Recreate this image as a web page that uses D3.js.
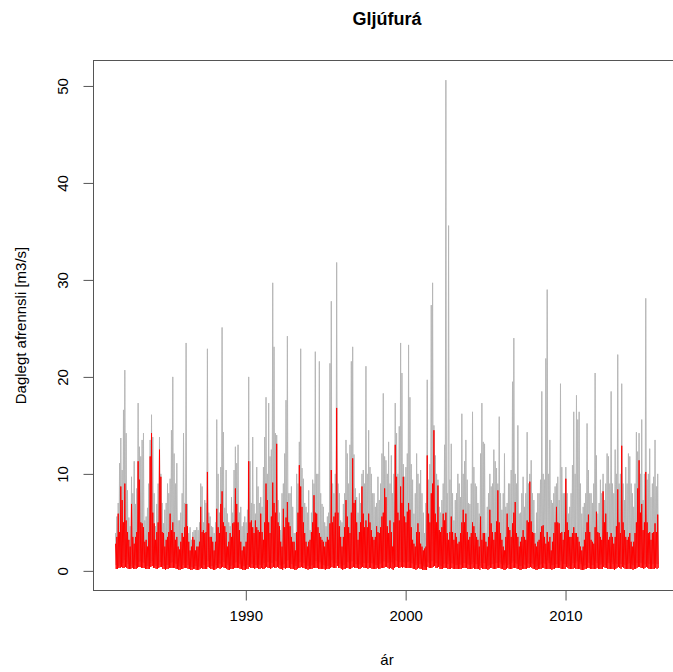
<!DOCTYPE html>
<html>
<head>
<meta charset="utf-8">
<script src="https://cdn.jsdelivr.net/npm/d3@7"></script>
<style>
  body { margin: 0; background: #fff; }
  svg { display: block; }
  text { font-family: "Liberation Sans", Arial, Helvetica, sans-serif; fill: #000; }
</style>
</head>
<body>
<svg id="chart" width="673" height="672"></svg>
<script>
// Gljúfurá daily discharge, summarised per month as the monthly high and low (m3/s).
// Rows are water years running November to October, first month November 1981.
const chartTitle = "Gljúfurá";
const xLabel = "ár";
const yLabel = "Daglegt afrennsli [m3/s]";
const firstYear = 1981, firstMonth = 10;
const xTickYears = [1990, 2000, 2010];
const yTickValues = [0, 10, 20, 30, 40, 50];

// Measured series (grey): monthly highs
const grayMax = [
  3.9,5.6,7,11.1,13.7,10.4,16.6,20.7,14.2,8.3,5.5,4.6,
  9.7,8,11.3,6.9,8.5,17.3,12.8,11.8,13.5,14.2,5.2,5.6,
  6.5,9,13.5,16.1,13.8,8,4.6,6.9,9,13.8,10,7,
  4.9,6.3,7,9,8,9.5,14.5,20,12.1,9,11.1,5.2,
  5.2,6,8,14.2,7,23.5,6.9,3.9,4.5,3.2,4,4.2,
  4.2,4.5,4.2,5,9,8.7,5,7.3,7,22.9,6,5.6,
  4.6,4.5,3.9,5,15.6,10,6,10.7,25.1,14.3,6.5,10.4,
  5.9,5,4.6,7.6,6,10.4,12.8,11.1,13,6,6.6,4.6,
  5,5.6,5,6.3,20,11.3,7,13.8,6.9,5.9,10.7,8.7,
  7,7.6,6.6,10.7,13.8,17.9,10,17.3,11.8,12.5,29.7,23.1,
  14.2,14,7.3,6,4.2,8,9,12.1,17.6,24.2,8,8,
  8.7,6.6,3.9,3.9,10,9,13.3,22.9,10.6,9.5,7,6.6,
  6,8.3,4.2,6,9.4,9,22.6,10,10,21.6,8,6.9,
  6.6,5,4.6,5.6,6,21.4,27.8,9,8,10,31.8,9,
  8,5.2,5,6.9,8,13.5,12.1,9,13,21.6,23.1,12,
  8.5,7.6,6,8,7,10,10.4,9,21.1,10,14.5,10.7,
  10,8,8,6.6,7,9.7,7.3,9,12.1,18.3,11.8,11.4,
  10,13.3,9,11.9,8,10,17.3,14.2,10,14.9,23.5,20.4,
  11,9.7,10.7,12.1,23.3,17.9,11,9.4,5.9,8,12.1,10,
  9,10.4,8,6,3.9,7,19.7,9.4,11,27.4,29.7,15,
  11.9,10,9.4,6.6,6,7.3,9,13,50.6,8,35.6,9.4,
  13.1,8,5.2,7.3,8,10,9,7.6,16.2,10,11.3,13.5,
  9.4,7,6.9,9,16.4,10.7,9,8.7,7,5.9,12.1,17.3,
  13.3,13.1,3.9,6.6,8,10,8.7,9,12.5,11.3,10.6,9,
  15.9,8,6.3,8,12.1,6.6,7,9,9,10.4,19.5,24,
  10,9,15,5.9,6,8,9.7,6.6,8,14.3,9,10,
  11.4,8,7.3,3.9,6,8,8,9.4,18.5,10,9.4,21.9,
  29,10,13.5,7.3,7,8,8.7,9,9.7,7.3,19.3,10.7,
  8,8,10.7,8,5.9,6.6,8,10.9,16.4,10,18.1,15.6,
  16.4,9,5.9,6.6,7,8,15.2,10.4,8,8,7,9,
  20.4,11.9,5.9,7,9.4,8,10,7.3,9,12.1,11.8,9,
  18.5,9,8,12.5,10,22.3,9,10,19.3,9,7.3,10.7,
  9,12.1,11.8,9,8,6.6,9,14.3,12.3,14.2,10,15.6,
  7.3,10,28.1,9.4,10,12.6,7.6,9,9.7,13.5,8.7,10
];

// Measured series (grey): monthly lows
const grayMin = [
  .6,.5,.5,.7,.9,.8,1.1,1.2,.9,.7,.6,.5,
  .7,.6,.6,.5,.6,.9,1.0,.8,.9,.8,.6,.5,
  .5,.6,.8,1.0,.9,.7,.5,.5,.6,.9,.8,.6,
  .5,.5,.6,.6,.7,.8,.9,1.1,.8,.7,.7,.5,
  .4,.5,.6,.8,.7,.9,.6,.5,.4,.4,.4,.5,
  .5,.4,.4,.5,.7,.7,.6,.6,.7,1.0,.7,.5,
  .5,.4,.4,.6,.9,.8,.7,.8,1.1,.9,.7,.8,
  .6,.5,.5,.6,.7,.8,.9,.9,.8,.7,.6,.5,
  .5,.5,.6,.6,1.0,.8,.7,.9,.6,.6,.8,.7,
  .6,.7,.6,.8,.9,1.1,.9,1.0,.9,.8,1.2,1.1,
  1.0,.9,.7,.6,.5,.6,.7,.8,1.0,1.1,.7,.7,
  .7,.6,.5,.5,.7,.8,.9,1.1,.9,.8,.6,.6,
  .5,.6,.5,.6,.7,.7,1.0,.8,.8,.9,.7,.6,
  .6,.5,.5,.5,.6,.9,1.1,.8,.7,.8,1.2,.8,
  .7,.5,.5,.6,.7,.9,.9,.8,.9,1.0,1.1,.9,
  .7,.7,.6,.7,.6,.8,.8,.8,1.0,.8,.9,.8,
  .8,.7,.7,.6,.6,.8,.7,.8,.9,1.0,.9,.9,
  .8,.9,.8,.9,.7,.8,1.1,1.0,.8,.9,1.1,1.0,
  .9,.8,.8,.9,1.0,1.0,.8,.7,.6,.6,.8,.8,
  .7,.7,.6,.5,.4,.5,.9,.8,.8,1.0,1.1,1.0,
  .8,.8,.7,.6,.5,.6,.7,.8,1.2,.7,1.0,.7,
  .8,.7,.5,.6,.6,.7,.7,.6,.9,.8,.8,.9,
  .7,.6,.6,.7,.9,.8,.7,.7,.6,.5,.8,.9,
  .8,.8,.4,.5,.6,.7,.7,.7,.8,.8,.8,.7,
  .9,.7,.6,.6,.8,.5,.6,.7,.7,.8,1.0,1.1,
  .8,.7,.9,.5,.5,.6,.7,.6,.6,.8,.7,.8,
  .8,.7,.6,.4,.5,.6,.6,.7,1.0,.8,.7,1.0,
  1.1,.8,.8,.6,.6,.7,.7,.7,.8,.6,1.0,.8,
  .7,.7,.8,.7,.5,.5,.6,.8,.9,.8,1.0,.9,
  .9,.7,.5,.5,.6,.6,.9,.8,.7,.6,.6,.7,
  1.0,.8,.5,.6,.7,.6,.8,.6,.7,.8,.8,.7,
  .9,.7,.6,.8,.7,1.0,.7,.7,1.0,.7,.6,.7,
  .7,.8,.8,.7,.6,.5,.6,.8,.8,.9,.8,.9,
  .6,.7,1.2,.8,.7,.8,.6,.7,.7,.8,.7,.7
];

// Second series (red): monthly highs
const redMax = [
  2.8,3.5,5.9,4,8.7,7.3,5,9,5.2,4,3.2,2.5,
  6.9,3.5,2.8,3.5,4,11.3,9.4,5,4.9,4.5,3,3.2,
  2.5,4,11.8,14.2,6,4.9,3.2,4,5,12.5,9.7,4,
  3.9,2.5,3.2,3.5,4,5.9,4.2,5,4,3.2,3.5,2.5,
  2.2,3,3.9,3.5,4.5,6.9,4.6,3,2.1,2.5,3.5,3.2,
  2.1,2.5,2.5,3,6.6,4,4.2,3.9,4,10.2,4.9,3.5,
  3.5,3,2.1,3,6.4,4.5,3.9,6.9,8.2,5,4.6,4,
  2.5,3,3.9,3.5,4.9,5,8.5,6.9,5,4.2,3,2.1,
  2.5,2.5,3,3.9,11.3,5,5.2,4.5,3.9,5.2,4.5,4.2,
  4,5.9,4,3.2,5,9,7.3,5,3.9,5.6,9.1,7,
  6,13.1,5,4.6,3,2.5,6.4,4.5,5.5,7.1,5,4.6,
  3.5,3,3,2.1,4,6,10.9,8.7,6.6,5,3.9,3,
  2.5,3,3.2,4,5,7.8,6,5.9,4.5,3.9,3.5,3.2,
  3,2.5,3,3.5,3.2,4.9,10.4,5,5.6,6,16.8,6,
  4.6,3.5,2.5,3.5,4.5,7.3,5.6,4.5,3.9,6,11.6,7,
  7.3,5,3.2,4,5,8.7,5.9,4.5,5.2,4.5,5.9,5,
  4.2,3.5,3.2,3.5,4.6,4,3.9,4.5,5.6,6,8.5,7.6,
  4.6,3.9,5.2,4,2.5,5,13,9.7,6,5.2,8.7,7,
  9.7,5.6,5,6.1,7,6.3,4.5,3.2,2.8,2.5,4,4.9,
  4,2.8,2.5,2.1,2.3,2.5,11.9,5.9,5,8,9,14.5,
  5.9,5,8.8,4.2,4,4.5,5.9,5.2,6,3.9,3.2,4,
  5.6,4,3.2,3.9,3.5,2.8,3,3.9,5,6.3,5,5.9,
  4,3.2,3.5,3.9,5,4.6,3.9,3.5,3.2,2.5,5.6,3.2,
  3.9,3.9,3,2.5,3.5,6.3,4.9,4,3.2,4,5.1,8.3,
  5,3.9,3.2,2.5,2.1,3.5,5.9,4.5,4.2,3.5,4.9,6,
  7.1,3.9,3.5,2.5,3,3.5,4.2,3.5,3.2,5.2,5,9.2,
  5.1,4,3.9,2.8,2.5,3,3.2,4,4.6,4.7,3.5,2.8,
  4,3,3.5,2.1,3,3.9,5,6.6,5,4.9,3.9,4,
  3.2,4,9.5,5,4.2,3.5,3.5,3.9,4.5,3.9,3.9,3.5,
  3,2.5,2.1,2.5,3.2,4,5,5.8,4,3.2,3,2.8,
  4.5,6.1,4,3.9,3.5,3.2,8.2,5,5.9,4,3.2,3.5,
  3.9,3.5,2.8,3.5,4.6,8.4,5,3.9,12.9,5,4.2,3.5,
  3.2,3.5,3.9,3,2.5,3,3.9,5,8.5,11.4,6,6.9,
  4.2,5,10.2,5,3.9,4,3.2,3.9,4,4.9,4,5.8
];

// Second series (red): monthly lows
const redMin = [
  .2,.2,.3,.3,.4,.3,.3,.4,.3,.2,.2,.2,
  .3,.2,.2,.2,.3,.4,.4,.3,.3,.3,.2,.2,
  .2,.2,.4,.5,.3,.3,.2,.2,.3,.4,.4,.2,
  .2,.1,.2,.2,.3,.3,.3,.3,.3,.2,.2,.1,
  .1,.2,.2,.3,.3,.3,.2,.2,.1,.1,.2,.2,
  .1,.1,.1,.2,.3,.2,.2,.2,.2,.4,.3,.2,
  .2,.1,.1,.2,.3,.3,.2,.3,.4,.3,.3,.2,
  .1,.1,.2,.2,.2,.3,.3,.3,.3,.2,.2,.1,
  .1,.1,.2,.2,.4,.3,.3,.3,.2,.3,.3,.2,
  .2,.3,.2,.2,.3,.4,.3,.3,.2,.3,.4,.3,
  .3,.4,.3,.2,.2,.1,.3,.2,.3,.3,.3,.2,
  .2,.2,.1,.1,.2,.3,.3,.4,.3,.3,.2,.2,
  .1,.2,.2,.2,.3,.3,.3,.3,.2,.2,.2,.2,
  .2,.1,.2,.2,.2,.3,.4,.3,.3,.3,.5,.3,
  .3,.2,.1,.2,.2,.3,.3,.2,.2,.3,.4,.3,
  .3,.3,.2,.2,.3,.4,.3,.3,.3,.2,.3,.3,
  .2,.2,.2,.2,.3,.2,.2,.3,.3,.3,.4,.4,
  .3,.2,.3,.2,.1,.3,.4,.4,.3,.3,.4,.3,
  .4,.3,.3,.3,.3,.3,.3,.2,.2,.1,.2,.3,
  .2,.2,.1,.1,.1,.1,.4,.3,.3,.3,.4,.5,
  .3,.3,.4,.2,.2,.2,.3,.3,.3,.2,.2,.2,
  .3,.2,.2,.2,.2,.2,.2,.2,.3,.3,.3,.3,
  .2,.2,.2,.2,.3,.2,.2,.2,.2,.1,.3,.2,
  .2,.2,.2,.1,.2,.3,.3,.2,.2,.2,.3,.3,
  .3,.2,.2,.1,.1,.2,.3,.2,.2,.2,.3,.3,
  .3,.2,.2,.1,.1,.2,.2,.2,.2,.3,.3,.4,
  .3,.2,.2,.1,.1,.2,.2,.2,.3,.3,.2,.2,
  .2,.2,.2,.1,.2,.2,.3,.3,.3,.3,.2,.2,
  .2,.2,.4,.3,.2,.2,.2,.2,.3,.2,.2,.2,
  .2,.1,.1,.1,.2,.2,.3,.3,.2,.2,.2,.2,
  .2,.3,.2,.2,.2,.2,.4,.3,.3,.2,.2,.2,
  .2,.2,.1,.2,.3,.4,.3,.2,.4,.3,.2,.2,
  .2,.2,.2,.2,.1,.2,.2,.3,.4,.4,.3,.3,
  .2,.3,.4,.3,.2,.2,.2,.2,.2,.3,.2,.3
];

const svg = d3.select("#chart");
const plot = { left: 93.5, right: 680.5, top: 60.5, bottom: 590.5 };

// Each month contributes its high and its low, in time order.
function monthlySeries(highs, lows) {
  const pts = [];
  highs.forEach((v, i) => {
    pts.push({ t: new Date(firstYear, firstMonth + i, 8), v: v });
    pts.push({ t: new Date(firstYear, firstMonth + i, 23), v: lows[i] });
  });
  return pts;
}
const graySeries = monthlySeries(grayMax, grayMin);
const redSeries = monthlySeries(redMax, redMin);
const allPts = graySeries.concat(redSeries);

// Axis ranges padded by 4% on each side.
const tFirst = new Date(firstYear, firstMonth, 1);
const tLast = new Date(firstYear, firstMonth + grayMax.length, 1);
const tPad = (tLast - tFirst) * 0.04;
const x = d3.scaleTime()
  .domain([new Date(+tFirst - tPad), new Date(+tLast + tPad)])
  .range([plot.left, plot.right]);

const vMax = d3.max(allPts, d => d.v);
const vPad = vMax * 0.04;
const y = d3.scaleLinear()
  .domain([-vPad, vMax + vPad])
  .range([plot.bottom, plot.top]);

svg.append("defs").append("clipPath").attr("id", "plotClip")
  .append("rect")
  .attr("x", plot.left).attr("y", plot.top)
  .attr("width", plot.right - plot.left).attr("height", plot.bottom - plot.top);

const line = d3.line().x(d => x(d.t)).y(d => y(d.v));

const lines = svg.append("g").attr("clip-path", "url(#plotClip)");
lines.append("path")
  .datum(graySeries)
  .attr("d", line)
  .attr("fill", "none")
  .attr("stroke", "#b6b6b6")
  .attr("stroke-width", 1);
lines.append("path")
  .datum(redSeries)
  .attr("d", line)
  .attr("fill", "none")
  .attr("stroke", "#ff0000")
  .attr("stroke-width", 1);

// Frame
svg.append("rect")
  .attr("x", plot.left).attr("y", plot.top)
  .attr("width", plot.right - plot.left).attr("height", plot.bottom - plot.top)
  .attr("fill", "none").attr("stroke", "#555").attr("stroke-width", 1);

// x axis
const xAxis = d3.axisBottom(x)
  .tickValues(xTickYears.map(yr => new Date(yr, 0, 1)))
  .tickFormat(d3.timeFormat("%Y"))
  .tickSize(10).tickPadding(17);
const gx = svg.append("g").attr("transform", `translate(0,${plot.bottom})`).call(xAxis);
gx.select(".domain").remove();
gx.selectAll(".tick line").attr("stroke", "#555");
gx.selectAll(".tick text").attr("font-size", 15).attr("dy", "0.71em").attr("y", 20);

// y axis, labels turned to run along the axis
const yAxis = d3.axisLeft(y).tickValues(yTickValues).tickFormat(d3.format("d")).tickSize(10);
const gy = svg.append("g").attr("transform", `translate(${plot.left},0)`).call(yAxis);
gy.select(".domain").remove();
gy.selectAll(".tick line").attr("stroke", "#555");
gy.selectAll(".tick text")
  .attr("font-size", 15)
  .attr("x", null).attr("dy", null)
  .attr("text-anchor", "middle")
  .attr("transform", "translate(-26,0) rotate(-90)");

// Titles
svg.append("text")
  .attr("x", (plot.left + plot.right) / 2).attr("y", 25)
  .attr("text-anchor", "middle").attr("font-size", 18).attr("font-weight", "bold")
  .text(chartTitle);
svg.append("text")
  .attr("x", (plot.left + plot.right) / 2).attr("y", 665)
  .attr("text-anchor", "middle").attr("font-size", 15)
  .text(xLabel);
svg.append("text")
  .attr("transform", `translate(26,${(plot.top + plot.bottom) / 2}) rotate(-90)`)
  .attr("text-anchor", "middle").attr("font-size", 15)
  .text(yLabel);
</script>
</body>
</html>
